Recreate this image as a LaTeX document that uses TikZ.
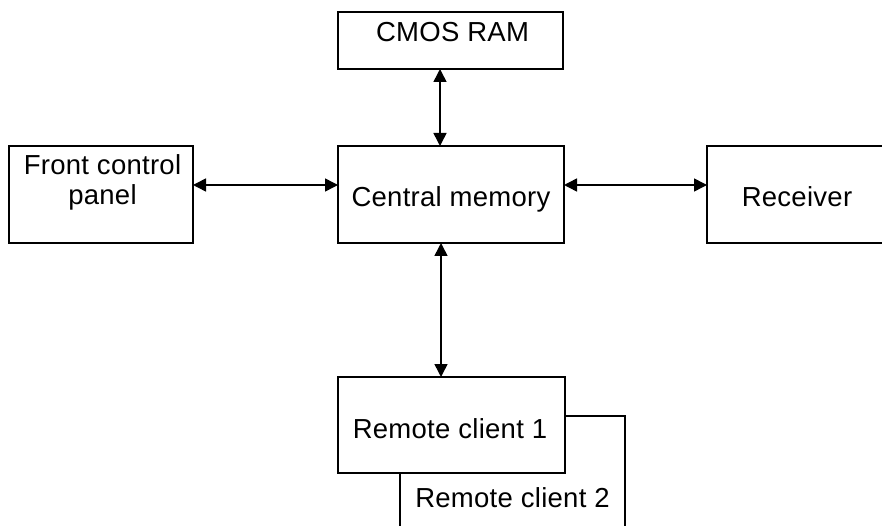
\documentclass[tikz,border=0pt]{standalone}
\usepackage{fontspec}
\setmainfont{Liberation Sans}[LetterSpace=1]
\usetikzlibrary{arrows.meta,calc}
\begin{document}
\begin{tikzpicture}[x=1pt,y=-1pt,
  box/.style={draw=black,line width=1.5pt,fill=white,rectangle,inner sep=0pt,outer sep=0pt},
  txt/.style={font=\fontsize{27.5}{30}\selectfont,inner sep=0pt,anchor=base},
  arr/.style={line width=1.5pt,{Triangle[length=13pt,width=13pt]}-{Triangle[length=13pt,width=13pt]}}]
\useasboundingbox (0,0) rectangle (882,526);
% boxes
\node[box,minimum width=225pt,minimum height=57pt] (cmos) at (450.5,40.5) {};
\node[box,minimum width=184pt,minimum height=97pt] (front) at (101,194.5) {};
\node[box,minimum width=226pt,minimum height=97pt] (central) at (451,194.5) {};
\node[box,minimum width=180pt,minimum height=97pt] (receiver) at (797,194.5) {};
\node[box,minimum width=225pt,minimum height=162pt] (rc2) at (512.5,497) {};
\node[box,minimum width=227pt,minimum height=96pt] (rc1) at (451.5,425) {};
% texts
\node[txt] (tcmos) at (452.5,41.5) {CMOS RAM};
\node[txt] (tfronta) at (102.5,175) {Front control};
\node[txt] (tfrontb) at (102.5,205) {panel};
\node[txt] (tcentral) at (451,207) {Central memory};
\node[txt] (treceiver) at (797,207) {Receiver};
\node[txt] (trc1) at (450,438) {Remote client 1};
\node[txt] (trc2) at (512.5,507) {Remote client 2};
% helper coordinates
\coordinate (lvl) at (0,185);
\coordinate (xa) at (440,0);
\coordinate (xb) at (441,0);
% connectors
\draw[arr] (cmos.south -| xa) -- (central.north -| xa);
\draw[arr] (front.east |- lvl) -- (central.west |- lvl);
\draw[arr] (central.east |- lvl) -- (receiver.west |- lvl);
\draw[arr] (central.south -| xb) -- (rc1.north -| xb);
\end{tikzpicture}
\end{document}
